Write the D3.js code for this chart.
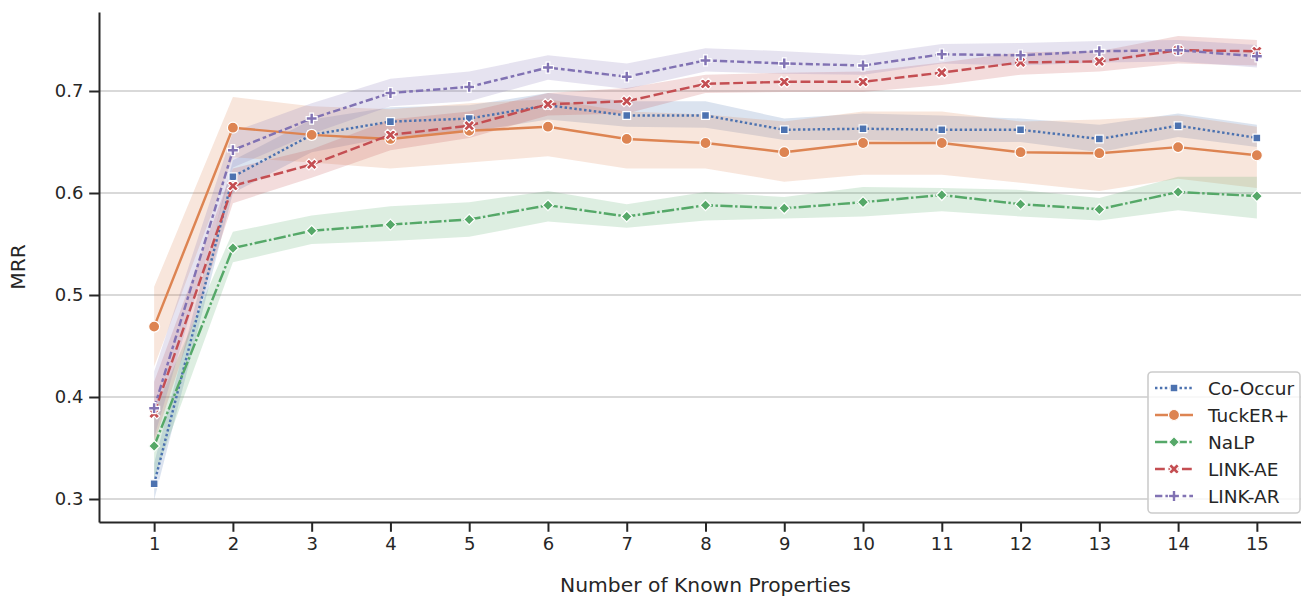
<!DOCTYPE html>
<html><head><meta charset="utf-8">
<script src="https://cdn.jsdelivr.net/npm/d3@7"></script>
<style>
body{margin:0;background:#fff}
svg{display:block}
text{font-family:"DejaVu Sans",sans-serif;fill:#262626}
</style>
</head><body>
<svg id="c" width="1301" height="597"></svg>
<script>
// ---------------- data ----------------
const xValues = [1,2,3,4,5,6,7,8,9,10,11,12,13,14,15];
const yTicks = [0.3,0.4,0.5,0.6,0.7];
const seriesNames = ["Co-Occur","TuckER+","NaLP","LINK-AE","LINK-AR"];
const xLabel = "Number of Known Properties";
const yLabel = "MRR";

const coOccurMean = [0.315,0.616,0.657,0.670,0.673,0.686,0.676,0.676,0.662,0.663,0.662,0.662,0.653,0.666,0.654];
const coOccurLo   = [0.299,0.600,0.640,0.655,0.660,0.672,0.665,0.664,0.652,0.652,0.650,0.650,0.640,0.655,0.645];
const coOccurHi   = [0.335,0.632,0.672,0.684,0.686,0.698,0.690,0.690,0.673,0.678,0.676,0.673,0.667,0.678,0.667];

const tuckerMean = [0.469,0.664,0.657,0.653,0.661,0.665,0.653,0.649,0.640,0.649,0.649,0.640,0.639,0.645,0.637];
const tuckerLo   = [0.430,0.635,0.630,0.624,0.630,0.636,0.624,0.624,0.611,0.618,0.618,0.610,0.602,0.614,0.605];
const tuckerHi   = [0.508,0.694,0.685,0.682,0.688,0.692,0.680,0.677,0.670,0.680,0.680,0.670,0.672,0.676,0.665];

const nalpMean = [0.352,0.546,0.563,0.569,0.574,0.588,0.577,0.588,0.585,0.591,0.598,0.589,0.584,0.601,0.597];
const nalpLo   = [0.320,0.532,0.550,0.553,0.557,0.572,0.566,0.573,0.575,0.577,0.582,0.577,0.573,0.583,0.575];
const nalpHi   = [0.385,0.562,0.578,0.587,0.591,0.602,0.589,0.601,0.596,0.606,0.605,0.603,0.595,0.616,0.616];

const linkAEMean = [0.384,0.607,0.628,0.657,0.666,0.687,0.690,0.707,0.709,0.709,0.718,0.728,0.729,0.740,0.739];
const linkAELo   = [0.355,0.590,0.615,0.642,0.654,0.676,0.678,0.698,0.699,0.699,0.706,0.716,0.719,0.727,0.725];
const linkAEHi   = [0.415,0.624,0.643,0.672,0.680,0.698,0.703,0.716,0.718,0.719,0.728,0.738,0.739,0.754,0.750];

const linkARMean = [0.389,0.642,0.673,0.698,0.704,0.723,0.714,0.730,0.727,0.725,0.736,0.735,0.739,0.740,0.734];
const linkARLo   = [0.360,0.625,0.658,0.685,0.690,0.711,0.702,0.719,0.717,0.716,0.727,0.725,0.728,0.729,0.723];
const linkARHi   = [0.425,0.660,0.688,0.712,0.719,0.735,0.727,0.742,0.739,0.735,0.746,0.747,0.749,0.750,0.745];

const seriesMean = [coOccurMean, tuckerMean, nalpMean, linkAEMean, linkARMean];
const seriesLo   = [coOccurLo, tuckerLo, nalpLo, linkAELo, linkARLo];
const seriesHi   = [coOccurHi, tuckerHi, nalpHi, linkAEHi, linkARHi];

// ---------------- style ----------------
const colors = ["#4C72B0","#DD8452","#55A868","#C44E52","#8172B3"];
const LW = 2.45;
const u = LW;
const dashes = [
  [u*1, u*1],
  null,
  [u*5, u*1, u*1, u*1],
  [u*4, u*1.5],
  [u*3, u*1.25, u*1.5, u*1.25]
];
const MS = 11;
function markerPath(kind){
  const h = MS/2;
  if(kind==="circle"){
    return `M${h},0A${h},${h} 0 1,1 ${-h},0A${h},${h} 0 1,1 ${h},0Z`;
  }
  if(kind==="square"){
    const a = h*Math.SQRT1_2;
    return `M${-a},${-a}L${a},${-a}L${a},${a}L${-a},${a}Z`;
  }
  if(kind==="diamond"){
    return `M0,${-h}L${h},0L0,${h}L${-h},0Z`;
  }
  if(kind==="plus"){
    const pts = [[-1,-3],[1,-3],[1,-1],[3,-1],[3,1],[1,1],[1,3],[-1,3],[-1,1],[-3,1],[-3,-1],[-1,-1]];
    return "M" + pts.map(p=>[p[0]/6*MS, p[1]/6*MS].join(",")).join("L") + "Z";
  }
  if(kind==="x"){
    const pts = [[-1,-2],[0,-1],[1,-2],[2,-1],[1,0],[2,1],[1,2],[0,1],[-1,2],[-2,1],[-1,0],[-2,-1]];
    return "M" + pts.map(p=>[p[0]/4*MS, p[1]/4*MS].join(",")).join("L") + "Z";
  }
}
const markers = ["square","circle","diamond","x","plus"];

// ---------------- layout ----------------
const svg = d3.select("#c");
const x = d3.scaleLinear().domain([0.3, 15.7]).range([99, 1312]);
const y = d3.scaleLinear().domain([0.27745, 0.77745]).range([522, 12]);

// grid
svg.append("g").selectAll("line").data(yTicks).join("line")
  .attr("x1", 99).attr("x2", 1312)
  .attr("y1", d=>y(d)).attr("y2", d=>y(d))
  .attr("stroke", "#cccccc").attr("stroke-width", 1.6);

// bands
const area = d3.area().x((d,i)=>x(xValues[i])).y0(d=>y(d[0])).y1(d=>y(d[1]));
seriesNames.forEach((name, s)=>{
  const pts = xValues.map((v,i)=>[seriesLo[s][i], seriesHi[s][i]]);
  svg.append("path").attr("d", area(pts))
    .attr("fill", colors[s]).attr("fill-opacity", 0.2).attr("stroke","none");
});

// lines + markers
const line = d3.line().x((d,i)=>x(xValues[i])).y(d=>y(d));
seriesNames.forEach((name, s)=>{
  const g = svg.append("g");
  g.append("path").attr("d", line(seriesMean[s]))
    .attr("fill","none").attr("stroke", colors[s]).attr("stroke-width", LW)
    .attr("stroke-dasharray", dashes[s] ? dashes[s].join(",") : null)
    .attr("stroke-linejoin","round");
  g.selectAll("path.m").data(seriesMean[s]).join("path").attr("class","m")
    .attr("d", markerPath(markers[s]))
    .attr("transform", (d,i)=>`translate(${x(xValues[i])},${y(d)})`)
    .attr("fill", colors[s]).attr("stroke","#fff").attr("stroke-width",1.2);
});

// axes
const yAxis = d3.axisLeft(y).tickValues(yTicks).tickFormat(d3.format(".1f"))
  .tickSize(9.8).tickPadding(5.7).tickSizeOuter(0);
const gy = svg.append("g").attr("transform","translate(99,0)").call(yAxis);
const xAxis = d3.axisBottom(x).tickValues(xValues).tickFormat(d3.format("d"))
  .tickSize(9.8).tickPadding(5.7).tickSizeOuter(0);
const gx = svg.append("g").attr("transform","translate(0,522)").call(xAxis);
[gx, gy].forEach(g=>{
  g.select(".domain").attr("stroke","#262626").attr("stroke-width",2);
  g.selectAll(".tick line").attr("stroke","#262626").attr("stroke-width",2);
  g.selectAll(".tick text").attr("fill","#262626")
    .style("font-family","'DejaVu Sans',sans-serif").style("font-size","18px");
});

// labels
svg.append("text").attr("x", 705.5).attr("y", 592)
  .attr("text-anchor","middle").style("font-size","20.3px").text(xLabel);
svg.append("text").attr("transform","translate(25,267) rotate(-90)")
  .attr("text-anchor","middle").style("font-size","20.3px").text(yLabel);

// legend
const lg = svg.append("g");
lg.append("rect").attr("x",1148).attr("y",372).attr("width",152).attr("height",141)
  .attr("rx",4).attr("fill","#fff").attr("fill-opacity",0.8)
  .attr("stroke","#cccccc").attr("stroke-width",1.6);
seriesNames.forEach((name, s)=>{
  const cy = 388 + s*27;
  lg.append("line").attr("x1",1155).attr("x2",1193).attr("y1",cy).attr("y2",cy)
    .attr("stroke", colors[s]).attr("stroke-width", LW)
    .attr("stroke-dasharray", dashes[s] ? dashes[s].join(",") : null);
  lg.append("path").attr("d", markerPath(markers[s]))
    .attr("transform",`translate(1174,${cy})`)
    .attr("fill", colors[s]).attr("stroke","#fff").attr("stroke-width",1.2);
  lg.append("text").attr("x",1208).attr("y",cy).attr("dy","0.36em")
    .style("font-size","18.5px").text(name);
});
</script>
</body></html>
